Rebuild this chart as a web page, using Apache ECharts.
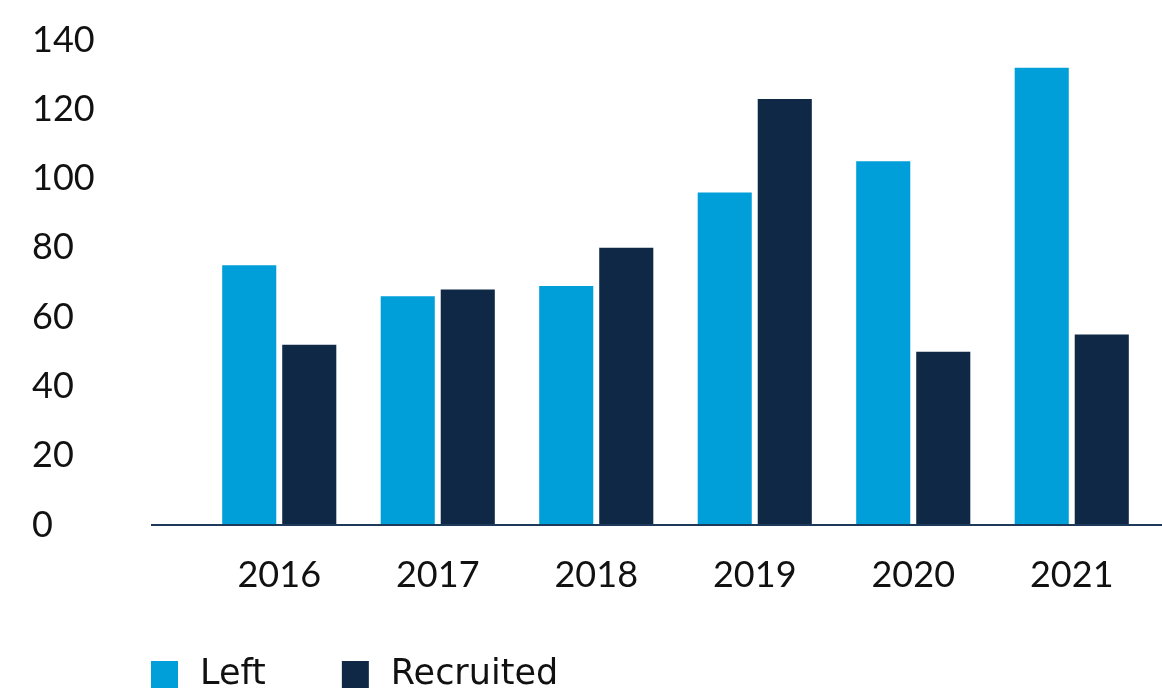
<!DOCTYPE html>
<html>
<head>
<meta charset="utf-8">
<script src="https://cdn.jsdelivr.net/npm/echarts@6/dist/echarts.min.js"></script>
<style>
    html, body { margin: 0; padding: 0; background: #fff; }
    #chart { width: 1162px; height: 689px; }
</style>
</head>
<body>
<div id="chart"></div>
<script>
// Data
const years = ['2016', '2017', '2018', '2019', '2020', '2021'];
const leftValues = [75, 66, 69, 96, 105, 132];
const recruitedValues = [52, 68, 80, 123, 50, 55];
const yTicks = [0, 20, 40, 60, 80, 100, 120, 140];

const leftColor = '#009fd9';
const recruitedColor = '#0e2846';
const axisColor = '#1d3a5a';
const fontFamily = 'Lato, "Noto Sans", sans-serif';

const chart = echarts.init(document.getElementById('chart'));

const options = {
    backgroundColor: '#fff',
    animation: false,
    textStyle: { fontFamily: fontFamily },
    grid: {
        left: 200,
        right: 11,
        top: 40,
        bottom: 164
    },
    legend: {
        left: 151,
        bottom: -3,
        padding: 0,
        itemWidth: 27,
        itemHeight: 27,
        itemGap: 76,
        icon: 'rect',
        textStyle: {
            fontFamily: '"DejaVu Sans", sans-serif',
            fontSize: 35,
            color: '#111',
            padding: [0, 0, 0, 17]
        },
        data: ['Left', 'Recruited']
    },
    xAxis: {
        type: 'category',
        data: years,
        axisLine: { show: false },
        axisTick: { show: false },
        axisLabel: {
            color: '#111',
            fontSize: 36,
            fontFamily: fontFamily,
            margin: 32
        }
    },
    yAxis: {
        type: 'value',
        min: yTicks[0],
        max: yTicks[yTicks.length - 1],
        interval: 20,
        splitLine: { show: false },
        axisLine: { show: false },
        axisTick: { show: false },
        axisLabel: {
            color: '#111',
            fontSize: 36,
            fontFamily: fontFamily,
            align: 'left',
            margin: 168
        }
    },
    series: [
        {
            name: 'Left',
            type: 'bar',
            data: leftValues,
            itemStyle: { color: leftColor },
            barGap: '11%',
            barCategoryGap: '28%'
        },
        {
            name: 'Recruited',
            type: 'bar',
            data: recruitedValues,
            itemStyle: { color: recruitedColor },
            barGap: '11%',
            barCategoryGap: '28%'
        }
    ]
};

chart.setOption(options);

// Baseline runs past the plot area on both sides
const baseY = chart.convertToPixel({ yAxisIndex: 0 }, 0);
chart.setOption({
    graphic: [{
        type: 'line',
        z: 10,
        shape: { x1: 151, y1: baseY, x2: 1162, y2: baseY },
        style: { stroke: axisColor, lineWidth: 2 }
    }]
});
</script>
</body>
</html>
